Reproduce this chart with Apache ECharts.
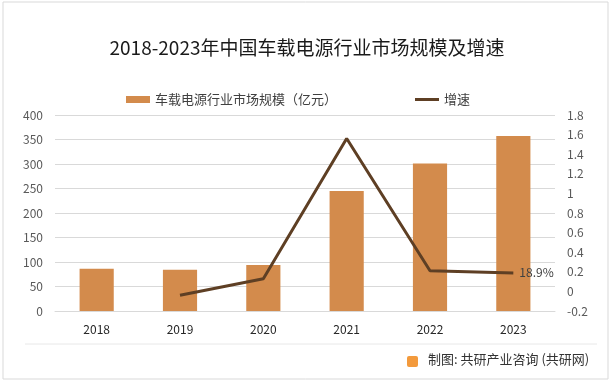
<!DOCTYPE html>
<html><head><meta charset="utf-8">
<script src="https://cdn.jsdelivr.net/npm/echarts@6/dist/echarts.min.js"></script>
<style>html,body{margin:0;padding:0;background:#fff}#c{width:614px;height:384px}</style>
</head><body><div id="c"></div>
<script>
const categories = ['2018','2019','2020','2021','2022','2023'];
const marketSize = [86, 84, 94, 245, 301, 357];
const growth = [null, -0.04, 0.13, 1.56, 0.21, 0.189];
const leftTicks = [0, 50, 100, 150, 200, 250, 300, 350, 400];
const rightTicks = [-0.2, 0, 0.2, 0.4, 0.6, 0.8, 1, 1.2, 1.4, 1.6, 1.8];
const titleText = '2018-2023年中国车载电源行业市场规模及增速';
const barName = '车载电源行业市场规模（亿元）';
const lineName = '增速';
const sourceText = '制图: 共研产业咨询 (共研网)';

const font = '"Noto Sans CJK SC", "Microsoft YaHei", sans-serif';

const chart = echarts.init(document.getElementById('c'));
chart.setOption({
  animation: false,
  textStyle: {fontFamily: font},
  title: {text: titleText, left: 'center', top: 33,
    textStyle: {fontSize: 19, fontWeight: 'normal', color: '#1a1a1a', fontFamily: font}},
  legend: {top: 88, left: 121, itemGap: 78, itemWidth: 24, itemHeight: 7,
    textStyle: {fontSize: 13, color: '#404040'},
    data: [{name: barName, icon: 'rect'},
           {name: lineName, icon: 'path://M0,0 L24,0 L24,3 L0,3 Z', itemStyle: {color: '#5E3F24'}}]},
  grid: {left: 55, right: 59, top: 115, bottom: 73},
  xAxis: {type: 'category', data: categories,
    axisLine: {show: true, lineStyle: {color: '#d9d9d9'}}, axisTick: {show: false},
    axisLabel: {color: '#262626', fontSize: 12, margin: 12}},
  yAxis: [
    {type: 'value', min: leftTicks[0], max: leftTicks[leftTicks.length-1], interval: 50,
      axisLabel: {color: '#595959', fontSize: 12, margin: 12},
      splitLine: {lineStyle: {color: '#d9d9d9'}}, axisLine: {show: false}, axisTick: {show: false}},
    {type: 'value', min: rightTicks[0], max: rightTicks[rightTicks.length-1], interval: 0.2,
      axisLabel: {color: '#595959', fontSize: 12, margin: 12,
        formatter: v => String(Math.round(v*10)/10)},
      splitLine: {show: false}, axisLine: {show: false}, axisTick: {show: false}}
  ],
  series: [
    {name: barName, type: 'bar', data: marketSize, barWidth: '41%',
      itemStyle: {color: '#D38B4C'}},
    {name: lineName, type: 'line', yAxisIndex: 1, data: growth, symbol: 'none',
      lineStyle: {color: '#5E3F24', width: 3}, itemStyle: {color: '#5E3F24'},
      endLabel: {show: true, distance: 6, color: '#404040', fontSize: 12,
        formatter: p => (p.value * 100).toFixed(1) + '%'}}
  ],
  graphic: [
    {type: 'rect', shape: {x: 3, y: 2, width: 605, height: 377},
      style: {fill: 'none', stroke: '#d9d9d9', lineWidth: 1}, z: -1},
    {type: 'line', shape: {x1: 25, y1: 344, x2: 597, y2: 344},
      style: {stroke: '#e8e8e8', lineWidth: 1}},
    {type: 'rect', shape: {x: 407, y: 356, width: 11, height: 11, r: 2},
      style: {fill: '#F39A3C'}},
    {type: 'text', left: 428, top: 353,
      style: {text: sourceText, fill: '#333', font: '13px ' + font}}
  ]
});
</script></body></html>
